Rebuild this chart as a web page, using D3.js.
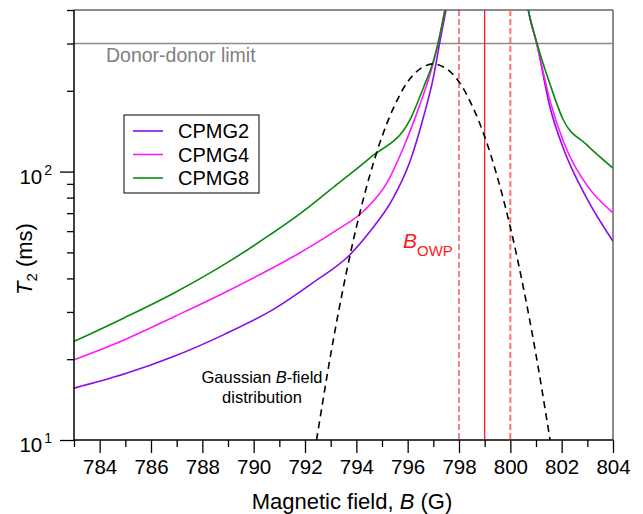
<!DOCTYPE html>
<html>
<head>
<meta charset="utf-8">
<script src="https://cdn.jsdelivr.net/npm/d3@7"></script>
<style>
  body { margin: 0; background: #fff; }
  text { font-family: "Liberation Sans", Arial, Helvetica, sans-serif; }
</style>
</head>
<body>
<div id="chart"></div>
<script>
// magnetic field (G) and T2 (ms); null splits the two branches
var fieldCPMG2 = [783, 784.95, 786.9, 788.84, 790.8, 792.3, 793.75, 794.53, 795.44, 796.09, 796.61, 797.0, 797.26, 797.49, 797.6,
                  null, 800.6, 800.7, 801.03, 801.55, 802.06, 802.97, 804]
var t2CPMG2 = [15.6, 17.6, 20.5, 24.7, 30.8, 38.5, 49, 59.8, 79.8, 109, 159, 224, 306, 400, 460,
               null, 460, 400, 300, 173, 122.5, 79.8, 55]

var fieldCPMG4 = [783, 784.95, 786.9, 788.84, 790.8, 791.67, 793.23, 794.3, 795.19, 795.83, 796.48, 796.87, 797.19, 797.45, 797.55,
                  null, 800.6, 800.7, 801.03, 801.55, 802.06, 802.97, 804]
var t2CPMG4 = [19.9, 23.6, 28.8, 35.3, 44.1, 49, 60.5, 71.5, 90.7, 122.5, 178, 230, 302, 400, 450,
               null, 450, 400, 300, 183, 130, 89.4, 70.2]

var fieldCPMG8 = [783, 784.95, 786.9, 788.84, 790.64, 791.93, 793.23, 794.53, 796.09, 796.61, 797.0, 797.19, 797.45, 797.55,
                  null, 800.6, 800.7, 801.03, 801.55, 802.06, 802.97, 804]
var t2CPMG8 = [23.3, 28.5, 35.3, 45, 58.2, 71.1, 89.4, 112.5, 156, 205, 258, 302, 400, 450,
               null, 450, 400, 302, 211, 156, 126, 103]

// gaussian B-field distribution (dashed), same axes
var fieldGauss = [792.45, 792.5, 793, 793.5, 794, 794.5, 795, 795.5, 796, 796.5, 797, 797.5, 798, 798.5, 799, 799.5, 800, 800.5, 801, 801.5, 801.55]
var gauss = [10, 10.7, 20.8, 37.3, 62, 95, 135, 177, 216, 242, 252, 242, 216, 177, 135, 95, 62, 37.3, 20.8, 10.7, 10]

var owpCenter = 799
var owpLow = 798
var owpHigh = 800
var donorLimit = 300

var seriesNames = ["CPMG2", "CPMG4", "CPMG8"]
var xTicks = [784, 786, 788, 790, 792, 794, 796, 798, 800, 802, 804]
var xMinorTicks = [783, 785, 787, 789, 791, 793, 795, 797, 799, 801, 803]
var yMajorTicks = [10, 100]
var yMinorTicks = [20, 30, 40, 50, 60, 70, 80, 90, 200, 300, 400]

var margin = {top: 10, right: 30, bottom: 74, left: 74},
    width = 643 - margin.left - margin.right,
    height = 514 - margin.top - margin.bottom;

var svg = d3.select("#chart")
  .append("svg")
    .attr("width", width + margin.left + margin.right)
    .attr("height", height + margin.top + margin.bottom)
  .append("g")
    .attr("transform", "translate(" + margin.left + "," + margin.top + ")")

var x = d3.scaleLinear().domain([783, 804]).range([0, width])
var y = d3.scaleLog().domain([10, 400]).range([height, 0])

svg.append("clipPath").attr("id", "clip")
  .append("rect").attr("width", width).attr("height", height)

// top and right frame, grey
svg.append("line").attr("x1", 0).attr("x2", width).attr("y1", 0).attr("y2", 0)
  .attr("stroke", "#666").attr("stroke-width", 1.5)
svg.append("line").attr("x1", width).attr("x2", width).attr("y1", 0).attr("y2", height)
  .attr("stroke", "#666").attr("stroke-width", 1.5)

// donor-donor limit
svg.append("line")
  .attr("x1", 0).attr("x2", width)
  .attr("y1", y(donorLimit)).attr("y2", y(donorLimit))
  .attr("stroke", "#8c8c8c").attr("stroke-width", 1.5)
svg.append("text")
  .attr("x", 32).attr("y", 52)
  .attr("fill", "#808080")
  .style("font-size", "19.5px")
  .text("Donor-donor limit")

// B_OWP lines
svg.append("line")
  .attr("x1", x(owpLow)).attr("x2", x(owpLow)).attr("y1", 0).attr("y2", height)
  .attr("stroke", "#e8202a").attr("stroke-width", 1.1).attr("stroke-dasharray", "6,3")
svg.append("line")
  .attr("x1", x(owpCenter)).attr("x2", x(owpCenter)).attr("y1", 0).attr("y2", height)
  .attr("stroke", "#f0202a").attr("stroke-width", 1.3)
svg.append("line")
  .attr("x1", x(owpHigh)).attr("x2", x(owpHigh)).attr("y1", 0).attr("y2", height)
  .attr("stroke", "#ff6f6f").attr("stroke-width", 2).attr("stroke-dasharray", "6,3")

var owpLabel = svg.append("text")
  .attr("x", 329).attr("y", 238)
  .attr("fill", "#ff1a1a")
  .style("font-size", "21px")
owpLabel.append("tspan").style("font-style", "italic").text("B")
owpLabel.append("tspan").attr("dy", 8).style("font-size", "15px").text("OWP")

// T2 curves
function makeLine(xs) {
  return d3.line()
    .defined(function (d) { return d != null })
    .x(function (d, i) { return x(xs[i]) })
    .y(function (d) { return y(d) })
    .curve(d3.curveMonotoneX)
}

var curves = [
  {xs: fieldCPMG2, ys: t2CPMG2, color: "#8a0ce6"},
  {xs: fieldCPMG4, ys: t2CPMG4, color: "#ff19ff"},
  {xs: fieldCPMG8, ys: t2CPMG8, color: "#0a8a0a"}
]
var plot = svg.append("g").attr("clip-path", "url(#clip)")
curves.forEach(function (c) {
  plot.append("path")
    .datum(c.ys)
    .attr("d", makeLine(c.xs))
    .attr("fill", "none")
    .attr("stroke", c.color)
    .attr("stroke-width", 1.6)
})

plot.append("path")
  .datum(gauss)
  .attr("d", d3.line()
    .x(function (d, i) { return x(fieldGauss[i]) })
    .y(function (d) { return y(d) })
    .curve(d3.curveCatmullRom))
  .attr("fill", "none")
  .attr("stroke", "black")
  .attr("stroke-width", 1.6)
  .attr("stroke-dasharray", "7,5")

var gLabel = svg.append("text")
  .attr("text-anchor", "middle")
  .style("font-size", "16.5px")
var gLine1 = gLabel.append("tspan").attr("x", 188).attr("y", 373)
gLine1.append("tspan").text("Gaussian ")
gLine1.append("tspan").style("font-style", "italic").text("B")
gLine1.append("tspan").text("-field")
gLabel.append("tspan").attr("x", 188).attr("y", 393).text("distribution")

// legend
var legend = svg.append("g").attr("transform", "translate(50,105)")
legend.append("rect")
  .attr("width", 135).attr("height", 78)
  .attr("fill", "white").attr("stroke", "black").attr("stroke-width", 1)
seriesNames.forEach(function (name, i) {
  legend.append("line")
    .attr("x1", 9).attr("x2", 39)
    .attr("y1", 16 + i * 23.5).attr("y2", 16 + i * 23.5)
    .attr("stroke", curves[i].color).attr("stroke-width", 1.6)
  legend.append("text")
    .attr("x", 54).attr("y", 23 + i * 23.5)
    .style("font-size", "20px")
    .text(name)
})

// X axis
var xAxis = svg.append("g")
  .attr("transform", "translate(0," + height + ")")
  .call(d3.axisBottom(x).tickValues(xTicks).tickSize(13).tickPadding(6).tickFormat(d3.format("d")))
xAxis.selectAll("text").style("font-size", "20.5px").attr("fill", "black")
xAxis.select(".domain").attr("d", "M0,0H" + width).attr("stroke-width", 1.5)
xAxis.selectAll(".tick line").attr("stroke-width", 1.3)
svg.append("g")
  .attr("transform", "translate(0," + height + ")")
  .call(d3.axisBottom(x).tickValues(xMinorTicks).tickSize(7).tickFormat(""))
  .call(function (g) { g.select(".domain").remove() })
  .selectAll(".tick line").attr("stroke-width", 1.3)

var xTitle = svg.append("text")
  .attr("text-anchor", "middle")
  .attr("x", 278).attr("y", height + 69)
  .style("font-size", "22px")
xTitle.append("tspan").text("Magnetic field, ")
xTitle.append("tspan").style("font-style", "italic").text("B")
xTitle.append("tspan").text(" (G)")

// Y axis
var yAxis = svg.append("g")
  .call(d3.axisLeft(y).tickValues(yMajorTicks).tickSize(14).tickFormat(""))
yAxis.select(".domain").attr("d", "M0," + height + "V0").attr("stroke-width", 1.5)
yAxis.selectAll(".tick line").attr("stroke-width", 1.3)
svg.append("g")
  .call(d3.axisLeft(y).tickValues(yMinorTicks).tickSize(7).tickFormat(""))
  .call(function (g) { g.select(".domain").remove() })
  .selectAll(".tick line").attr("stroke-width", 1.3)

yMajorTicks.forEach(function (v) {
  var t = svg.append("text")
    .attr("text-anchor", "end")
    .attr("x", -22).attr("y", y(v) + 12)
    .style("font-size", "20.5px")
  t.append("tspan").text("10")
  t.append("tspan").attr("dy", -9).attr("dx", 2).style("font-size", "14px").text(Math.round(Math.log10(v)))
})

var yTitle = svg.append("text")
  .attr("text-anchor", "middle")
  .attr("transform", "translate(" + (31.5 - margin.left) + "," + (259 - margin.top) + ") rotate(-90)")
  .style("font-size", "22px")
yTitle.append("tspan").style("font-style", "italic").text("T")
yTitle.append("tspan").attr("dy", 5).style("font-size", "15px").text("2")
yTitle.append("tspan").attr("dy", -5).text(" (ms)")
</script>
</body>
</html>
